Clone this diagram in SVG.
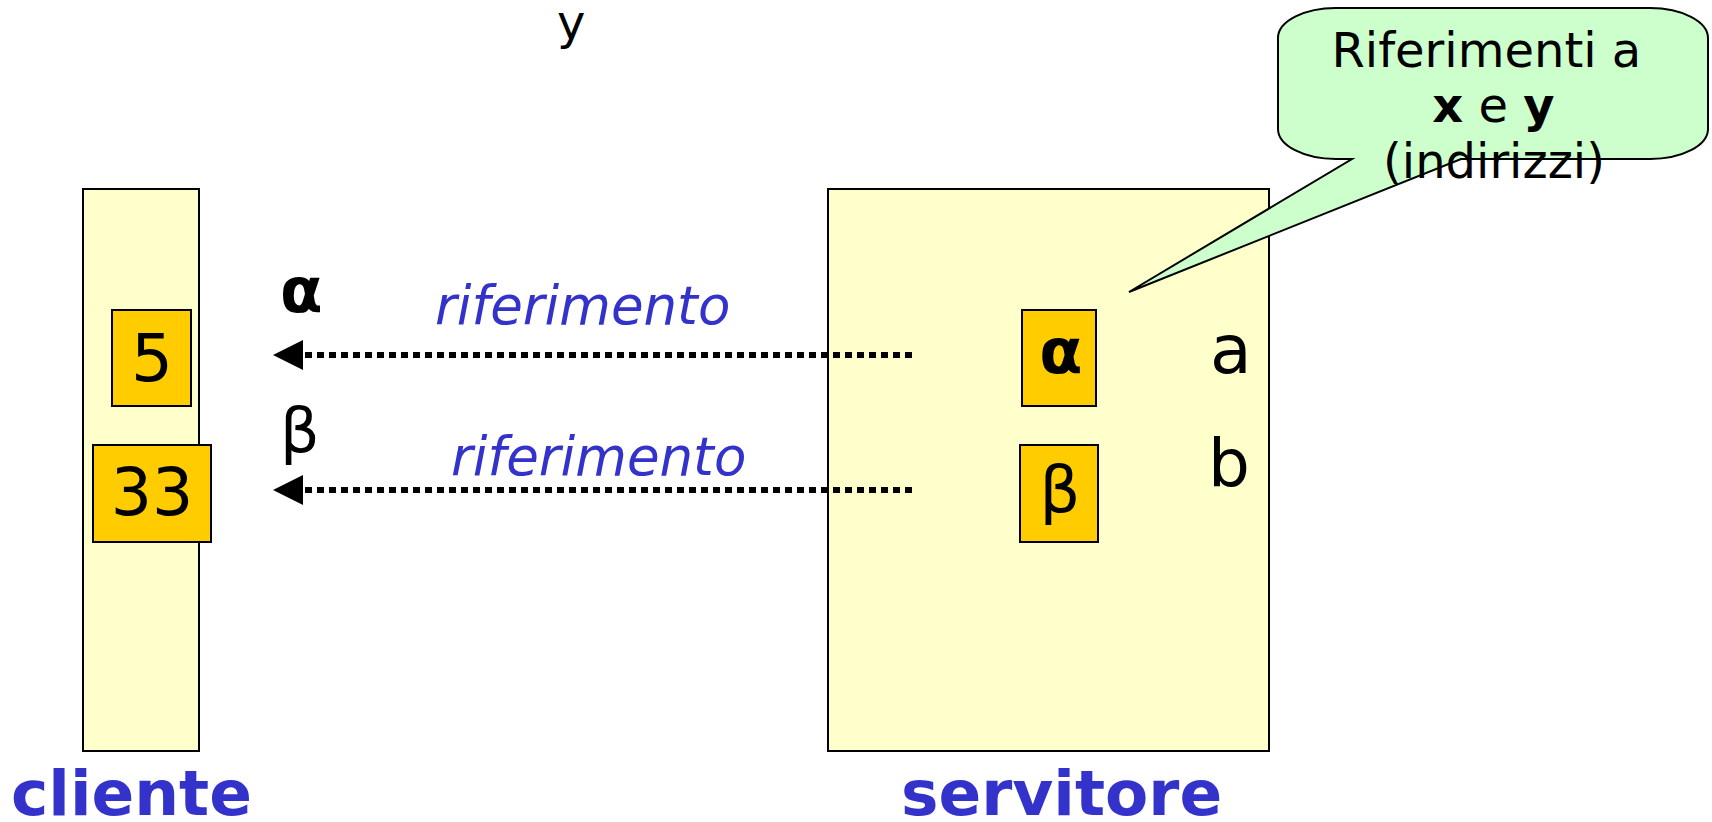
<svg xmlns="http://www.w3.org/2000/svg" width="1712" height="822" viewBox="0 0 1712 822">
  <style>
    .t { font-family: "DejaVu Sans", "Liberation Sans", sans-serif; fill: #000; }
    .area { fill: #FFFFCC; stroke: #000; stroke-width: 2; }
    .cell { fill: #FFCC00; stroke: #000; stroke-width: 2; }
    .ref { font-family: "DejaVu Sans", sans-serif; font-style: italic; font-size: 53px; fill: #3333CC; }
    .title { font-family: "DejaVu Sans", sans-serif; font-weight: bold; font-size: 63px; fill: #3333CC; }
    .dots { stroke: #000; stroke-width: 6; stroke-dasharray: 7 5; fill: none; }
  </style>
  <defs>
    <!-- solid triangular head; base sits on the line end, tip points along the line -->
    <marker id="head" viewBox="0 0 30 30" refX="0" refY="15" markerWidth="30" markerHeight="30" markerUnits="userSpaceOnUse" orient="auto">
      <path d="M0,0 L30,15 L0,30 Z" fill="#000"/>
    </marker>
  </defs>

  <text class="t" x="557" y="39" font-size="48">y</text>

  <!-- client memory -->
  <g id="cliente">
    <rect class="area" x="83" y="189" width="116" height="562"/>
    <text class="title" x="11" y="815">cliente</text>
  </g>
  <g id="cell-5">
    <rect class="cell" x="112" y="310" width="79" height="96"/>
    <text class="t" x="152" y="381" font-size="66" text-anchor="middle">5</text>
  </g>
  <g id="cell-33">
    <rect class="cell" x="93" y="445" width="118" height="97"/>
    <text class="t" x="152" y="515" font-size="65" text-anchor="middle">33</text>
  </g>
  <text class="t" x="280" y="312" font-size="62" font-weight="bold">α</text>
  <text class="t" x="280" y="452" font-size="62">β</text>

  <!-- server memory -->
  <g id="servitore">
    <rect class="area" x="828" y="189" width="441" height="562"/>
    <text class="title" x="901" y="815">servitore</text>
    <text class="t" x="1210" y="373" font-size="68">a</text>
    <text class="t" x="1208" y="486" font-size="66">b</text>
  </g>
  <g id="cell-alpha">
    <rect class="cell" x="1022" y="310" width="74" height="96"/>
    <text class="t" x="1061" y="373" font-size="63" font-weight="bold" text-anchor="middle">α</text>
  </g>
  <g id="cell-beta">
    <rect class="cell" x="1020" y="445" width="78" height="97"/>
    <text class="t" x="1060" y="512" font-size="64" text-anchor="middle">β</text>
  </g>

  <!-- reference connectors -->
  <g id="connectors">
    <line class="dots" x1="912" y1="355" x2="303" y2="355" marker-end="url(#head)"/>
    <line class="dots" x1="912" y1="490" x2="303" y2="490" marker-end="url(#head)"/>
    <text class="ref" x="435" y="324">riferimento</text>
    <text class="ref" x="451" y="475">riferimento</text>
  </g>

  <!-- callout -->
  <g id="callout">
    <path d="M1338,8 L1650,8 A58,30 0 0 1 1708,38 L1708,129 A58,30 0 0 1 1650,159 L1461,159 L1129,292 L1352,159 L1336,159 A58,30 0 0 1 1278,129 L1278,38 A58,30 0 0 1 1338,8 Z" fill="#CCFFCC" stroke="#000" stroke-width="2"/>
    <text class="t" font-size="48" text-anchor="middle">
      <tspan x="1494" y="67">Riferimenti a</tspan>
      <tspan x="1501" y="122"><tspan font-weight="bold">x</tspan> e <tspan font-weight="bold">y</tspan></tspan>
      <tspan x="1494" y="178">(indirizzi)</tspan>
    </text>
  </g>
</svg>
